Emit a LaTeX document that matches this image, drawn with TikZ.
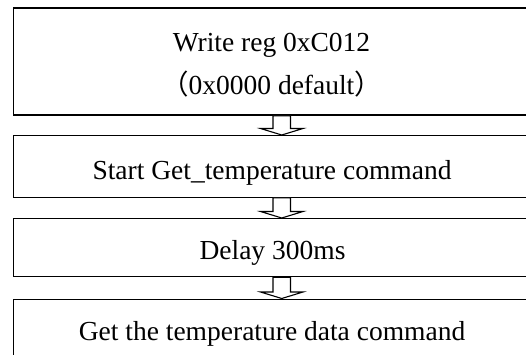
\documentclass[tikz,border=0pt]{standalone}
\usepackage{fontspec}
\setmainfont{Liberation Serif}
\newfontfamily\cjkfont{Noto Sans CJK SC}
\usetikzlibrary{calc}
\newcommand{\blockarrow}[2]{%
  \draw[barrow] let \p1=(#1.south), \p2=(#2.north) in
    (273,\y1) -- (290.5,\y1) -- (290.5,\y2+6.5pt) -- (303,\y2+6.5pt) --
    (281.75,\y2) -- (260.5,\y2+6.5pt) -- (273,\y2+6.5pt) -- cycle;}
\begin{document}
\begin{tikzpicture}[x=1pt,y=1pt,
  box/.style={draw=black,line width=1.4pt,rectangle,anchor=north west,inner sep=0pt,minimum width=560pt},
  lbl/.style={anchor=base,inner sep=0pt,font=\fontsize{27.5}{33}\selectfont},
  barrow/.style={draw=black,line width=1.1pt,fill=white,line join=miter}]
\clip (0,0) rectangle (526,-355);
\fill[white] (0,0) rectangle (526,-355);
\node[box,minimum height=107pt] (b1) at (12.5,-7.5) {};
\node[box,minimum height=61.5pt] (b2) at (12.5,-135) {};
\node[box,minimum height=58pt] (b3) at (12.5,-218) {};
\node[box,minimum height=120pt] (b4) at (12.5,-298.5) {};
\node[lbl] (t1a) at (271.5,-52) {Write reg 0xC012};
\node[lbl] (t1b) at (271.5,-95) {{\cjkfont （}0x0000 default{\cjkfont ）}};
\node[lbl] (t2) at (272,-179) {Start Get\_temperature command};
\node[lbl] (t3) at (272.5,-259) {Delay 300ms};
\node[lbl] (t4) at (272,-340) {Get the temperature data command};
\blockarrow{b1}{b2}
\blockarrow{b2}{b3}
\blockarrow{b3}{b4}
\end{tikzpicture}
\end{document}
